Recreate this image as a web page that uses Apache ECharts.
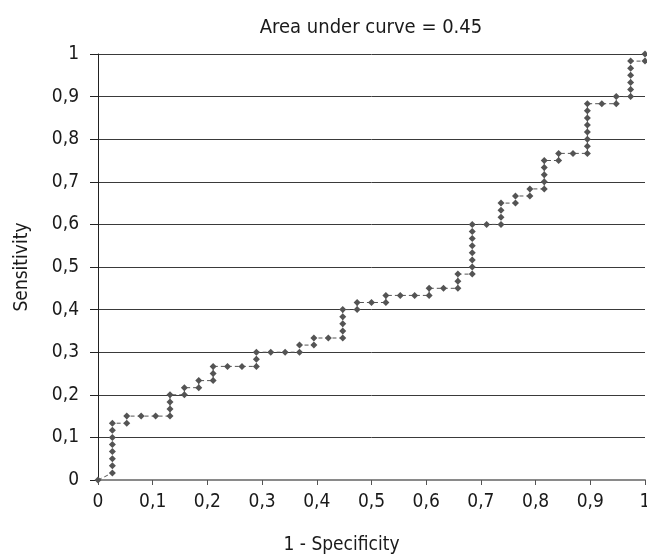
<!DOCTYPE html>
<html>
<head>
<meta charset="utf-8">
<script src="https://cdn.jsdelivr.net/npm/echarts@6/dist/echarts.min.js"></script>
<style>
  html, body { margin: 0; padding: 0; background: #fff; }
  #chart { width: 647px; height: 556px; }
</style>
</head>
<body>
<div id="chart"></div>
<script>
// ROC points (1 - specificity, sensitivity)
const fpr = [
  0,
  0.0263, 0.0263, 0.0263, 0.0263, 0.0263, 0.0263, 0.0263, 0.0263,
  0.0526, 0.0526,
  0.0789, 0.1053,
  0.1316, 0.1316, 0.1316, 0.1316,
  0.1579, 0.1579,
  0.1842, 0.1842,
  0.2105, 0.2105, 0.2105,
  0.2368, 0.2632,
  0.2895, 0.2895, 0.2895,
  0.3158, 0.3421,
  0.3684, 0.3684,
  0.3947, 0.3947,
  0.4211,
  0.4474, 0.4474, 0.4474, 0.4474, 0.4474,
  0.4737, 0.4737,
  0.5,
  0.5263, 0.5263,
  0.5526, 0.5789,
  0.6053, 0.6053,
  0.6316,
  0.6579, 0.6579, 0.6579,
  0.6842, 0.6842, 0.6842, 0.6842, 0.6842, 0.6842, 0.6842, 0.6842,
  0.7105,
  0.7368, 0.7368, 0.7368, 0.7368,
  0.7632, 0.7632,
  0.7895, 0.7895,
  0.8158, 0.8158, 0.8158, 0.8158, 0.8158,
  0.8421, 0.8421,
  0.8684,
  0.8947, 0.8947, 0.8947, 0.8947, 0.8947, 0.8947, 0.8947, 0.8947,
  0.9211,
  0.9474, 0.9474,
  0.9737, 0.9737, 0.9737, 0.9737, 0.9737, 0.9737,
  1, 1
];
const tpr = [
  0,
  0.0167, 0.0333, 0.05, 0.0667, 0.0833, 0.1, 0.1167, 0.1333,
  0.1333, 0.15,
  0.15, 0.15,
  0.15, 0.1667, 0.1833, 0.2,
  0.2, 0.2167,
  0.2167, 0.2333,
  0.2333, 0.25, 0.2667,
  0.2667, 0.2667,
  0.2667, 0.2833, 0.3,
  0.3, 0.3,
  0.3, 0.3167,
  0.3167, 0.3333,
  0.3333,
  0.3333, 0.35, 0.3667, 0.3833, 0.4,
  0.4, 0.4167,
  0.4167,
  0.4167, 0.4333,
  0.4333, 0.4333,
  0.4333, 0.45,
  0.45,
  0.45, 0.4667, 0.4833,
  0.4833, 0.5, 0.5167, 0.5333, 0.55, 0.5667, 0.5833, 0.6,
  0.6,
  0.6, 0.6167, 0.6333, 0.65,
  0.65, 0.6667,
  0.6667, 0.6833,
  0.6833, 0.7, 0.7167, 0.7333, 0.75,
  0.75, 0.7667,
  0.7667,
  0.7667, 0.7833, 0.8, 0.8167, 0.8333, 0.85, 0.8667, 0.8833,
  0.8833,
  0.8833, 0.9,
  0.9, 0.9167, 0.9333, 0.95, 0.9667, 0.9833,
  0.9833, 1
];
const tickLabels = ['0', '0,1', '0,2', '0,3', '0,4', '0,5', '0,6', '0,7', '0,8', '0,9', '1'];

const font = "'Liberation Sans Narrow', 'DejaVu Sans Condensed', sans-serif";
const chart = echarts.init(document.getElementById('chart'));

const points = fpr.map((x, i) => [x, tpr[i]]);

chart.setOption({
  animation: false,
  title: {
    text: 'Area under curve = 0.45',
    left: 366, top: 13, textAlign: 'center',
    textStyle: { fontFamily: font, fontSize: 20, fontWeight: 'normal', color: '#1a1a1a' }
  },
  grid: { left: 98, right: 2, top: 54, bottom: 76, containLabel: false, outerBoundsMode: 'none' },
  xAxis: {
    type: 'value', min: 0, max: 1, interval: 0.1,
    name: '1 - Specificity', nameLocation: 'middle', nameGap: 56,
    nameTextStyle: { fontFamily: font, fontSize: 19, color: '#1a1a1a', padding: [0, 60, 0, 0] },
    axisLine: { lineStyle: { color: '#8a8a8a', width: 2 } },
    axisTick: { show: true, length: 5, lineStyle: { color: '#555' } },
    axisLabel: {
      fontFamily: font, fontSize: 19, color: '#1a1a1a', margin: 13,
      formatter: v => tickLabels[Math.round(v * 10)]
    },
    splitLine: { show: false }
  },
  yAxis: {
    type: 'value', min: 0, max: 1, interval: 0.1,
    name: 'Sensitivity', nameLocation: 'middle', nameGap: 66, nameRotate: 90,
    nameTextStyle: { fontFamily: font, fontSize: 19, color: '#1a1a1a' },
    axisLine: { show: true, lineStyle: { color: '#222', width: 1 } },
    axisTick: { show: true, length: 8, lineStyle: { color: '#222' } },
    axisLabel: {
      fontFamily: font, fontSize: 19, color: '#1a1a1a', margin: 19,
      formatter: v => tickLabels[Math.round(v * 10)]
    },
    splitLine: { show: true, lineStyle: { color: '#3a3a3a', width: 1 } }
  },
  series: [{
    type: 'line',
    data: points,
    clip: false,
    symbol: 'diamond',
    symbolSize: 7,
    itemStyle: { color: '#545454' },
    lineStyle: { color: '#545454', width: 1, type: [4, 3] }
  }]
});
</script>
</body>
</html>
